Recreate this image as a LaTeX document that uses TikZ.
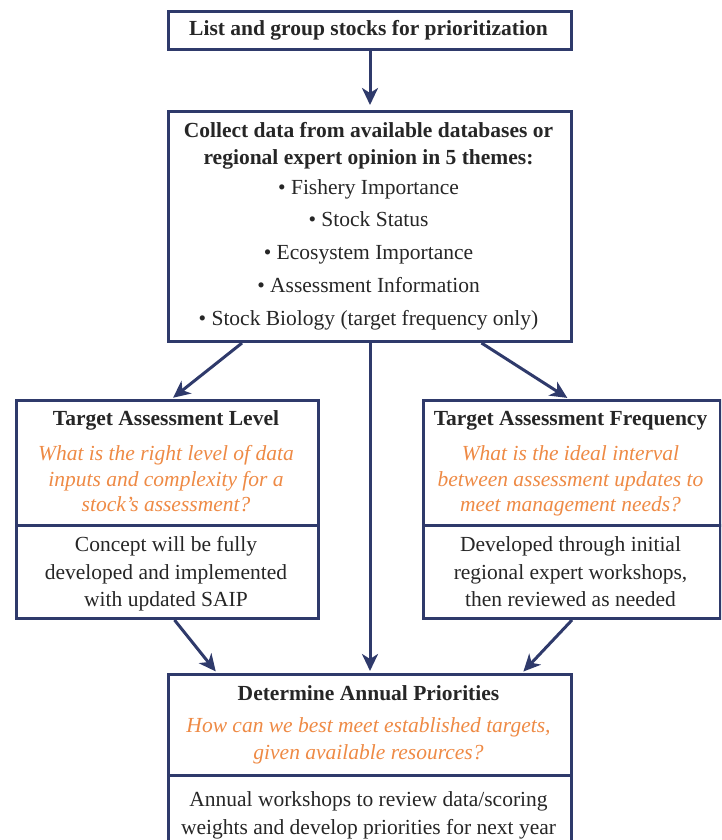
\documentclass[tikz,border=0pt]{standalone}
\usepackage{fontspec}
\setmainfont{Liberation Serif}
\usetikzlibrary{arrows.meta}
\definecolor{navy}{HTML}{2F3A6B}
\definecolor{orng}{HTML}{EE8A45}
\tikzset{
 box/.style={draw=navy, line width=3pt, rectangle, inner sep=0pt, anchor=north west},
 txt/.style={font=\fontsize{21.5}{25}\selectfont, inner sep=0pt, anchor=base, text=black!85},
 ttl/.style={txt, font=\fontsize{21.5}{25}\selectfont\bfseries},
 qq/.style={txt, text=orng, font=\fontsize{21.5}{25}\selectfont\itshape},
 arr/.style={draw=navy, line width=3pt, -{Stealth[length=17pt,width=16pt,inset=5pt]}},
 divider/.style={draw=navy, line width=3pt},
}
\begin{document}
\begin{tikzpicture}[x=1pt,y=-1pt]
\useasboundingbox (0,0) rectangle (721,840);
\clip (0,0) rectangle (721,840);
% boxes
\node[box, minimum width=403pt, minimum height=38pt] (b1) at (167,10) {};
\node[box, minimum width=403pt, minimum height=230pt] (b2) at (167,110) {};
\node[box, minimum width=302pt, minimum height=218pt] (tal) at (15,399) {};
\node[box, minimum width=297pt, minimum height=218pt] (taf) at (422,399) {};
\node[box, minimum width=403pt, minimum height=200pt] (dap) at (167,673) {};
% dividers
\draw[divider] (tal.west |- 0,525) -- (tal.east |- 0,525);
\draw[divider] (taf.west |- 0,525) -- (taf.east |- 0,525);
\draw[divider] (dap.west |- 0,775) -- (dap.east |- 0,775);
% text top
\node[ttl] (t1) at (368.5,36) {List and group stocks for prioritization};
% text second
\node[ttl] (t2a) at (368.5,137) {Collect data from available databases or};
\node[ttl] (t2b) at (368.5,164) {regional expert opinion in 5 themes:};
\node[txt] (t2c) at (368.5,194) {\textbullet\ Fishery Importance};
\node[txt] (t2d) at (368.5,226) {\textbullet\ Stock Status};
\node[txt] (t2e) at (368.5,259) {\textbullet\ Ecosystem Importance};
\node[txt] (t2f) at (368.5,292) {\textbullet\ Assessment Information};
\node[txt] (t2g) at (368.5,325) {\textbullet\ Stock Biology (target frequency only)};
% left
\node[ttl] (l1) at (166,425) {Target Assessment Level};
\node[qq] (l2) at (166,460) {What is the right level of data};
\node[qq] (l3) at (166,486) {inputs and complexity for a};
\node[qq] (l4) at (166,511) {stock’s assessment?};
\node[txt] (l5) at (166,551) {Concept will be fully};
\node[txt] (l6) at (166,579) {developed and implemented};
\node[txt] (l7) at (166,606) {with updated SAIP};
% right
\node[ttl] (r1) at (570.5,425) {Target Assessment Frequency};
\node[qq] (r2) at (570.5,460) {What is the ideal interval};
\node[qq] (r3) at (570.5,486) {between assessment updates to};
\node[qq] (r4) at (570.5,511) {meet management needs?};
\node[txt] (r5) at (570.5,551) {Developed through initial};
\node[txt] (r6) at (570.5,579) {regional expert workshops,};
\node[txt] (r7) at (570.5,606) {then reviewed as needed};
% bottom
\node[ttl] (d1) at (368.5,700) {Determine Annual Priorities};
\node[qq] (d2) at (368.5,732) {How can we best meet established targets,};
\node[qq] (d3) at (368.5,759) {given available resources?};
\node[txt] (d4) at (368.5,806) {Annual workshops to review data/scoring};
\node[txt] (d5) at (368.5,834) {weights and develop priorities for next year};
% arrows
\draw[arr, shorten >=5pt] (b1.south) -- (b2.north);
\draw[arr, shorten >=2pt] ([xshift=-128pt]b2.south) -- ([xshift=4pt]tal.north);
\draw[arr, shorten >=2pt] (b2.south) -- (dap.north);
\draw[arr, shorten >=2pt] ([xshift=111.5pt]b2.south) -- ([xshift=-3pt]taf.north);
\draw[arr, shorten >=2pt] ([xshift=7pt]tal.south) -- ([xshift=-153pt]dap.north);
\draw[arr, shorten >=2pt] (taf.south) -- ([xshift=152pt]dap.north);
\end{tikzpicture}
\end{document}
